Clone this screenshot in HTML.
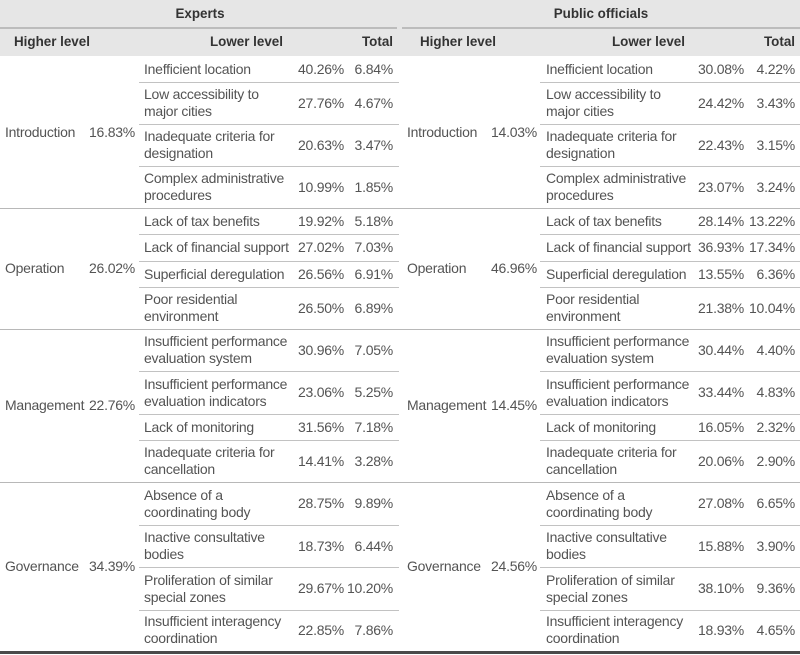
<!DOCTYPE html>
<html><head><meta charset="utf-8">
<style>
html,body{margin:0;padding:0;background:#fff;}
body{width:800px;height:655px;position:relative;overflow:hidden;font-family:"Liberation Sans",Arial,sans-serif;color:#545454;font-size:14px;letter-spacing:-0.25px;}
.hdr{position:absolute;left:0;top:0;width:800px;height:56px;background:#e6e6e6;}
.hl{position:absolute;height:2px;background:#bcbcbc;top:27px;}
.h{position:absolute;font-weight:bold;color:#333;font-size:13.4px;letter-spacing:0;line-height:16px;white-space:nowrap;}
.row{position:absolute;left:0;width:800px;}
.c{position:absolute;top:-1px;bottom:1px;display:flex;align-items:center;line-height:17px;white-space:nowrap;}
.nl{left:144px}.nr{left:546px}
.p1l{right:456px}.p2l{right:407px}.p1r{right:56px}.p2r{right:5px}
.gl{left:5px}.gr{left:407px}
.gpl{right:665px}.gpr{right:263px}
.ln{position:absolute;height:1px;background:#c2c2c2;}
.sl{left:139px;width:260px}.sr{left:540px;width:260px}
.gline{position:absolute;left:0;width:800px;height:1px;background:#b8b8b8;}
.bot{position:absolute;left:0;width:800px;top:651px;height:3px;background:#4a4a4a;}
</style></head><body>
<div class="hdr"></div>
<div class="hl" style="left:0;width:397px"></div>
<div class="hl" style="left:402px;width:398px"></div>
<div class="h" style="left:0;width:400px;text-align:center;top:6px">Experts</div>
<div class="h" style="left:402px;width:398px;text-align:center;top:6px">Public officials</div>
<div class="h" style="left:14px;top:34px">Higher level</div>
<div class="h" style="left:210px;top:34px">Lower level</div>
<div class="h" style="right:407px;top:34px">Total</div>
<div class="h" style="left:420px;top:34px">Higher level</div>
<div class="h" style="left:612px;top:34px">Lower level</div>
<div class="h" style="right:5px;top:34px">Total</div>

<!-- group labels -->
<div class="row" style="top:57px;height:152px"><div class="c gl">Introduction</div><div class="c gpl">16.83%</div><div class="c gr">Introduction</div><div class="c gpr">14.03%</div></div>
<div class="row" style="top:209px;height:121px"><div class="c gl">Operation</div><div class="c gpl">26.02%</div><div class="c gr">Operation</div><div class="c gpr">46.96%</div></div>
<div class="row" style="top:330px;height:153px"><div class="c gl">Management</div><div class="c gpl">22.76%</div><div class="c gr">Management</div><div class="c gpr">14.45%</div></div>
<div class="row" style="top:483px;height:169px"><div class="c gl">Governance</div><div class="c gpl">34.39%</div><div class="c gr">Governance</div><div class="c gpr">24.56%</div></div>

<!-- Introduction -->
<div class="row" style="top:57px;height:26px"><div class="c nl">Inefficient location</div><div class="c p1l">40.26%</div><div class="c p2l">6.84%</div><div class="c nr">Inefficient location</div><div class="c p1r">30.08%</div><div class="c p2r">4.22%</div></div>
<div class="row" style="top:83px;height:42px"><div class="c nl">Low accessibility to<br>major cities</div><div class="c p1l">27.76%</div><div class="c p2l">4.67%</div><div class="c nr">Low accessibility to<br>major cities</div><div class="c p1r">24.42%</div><div class="c p2r">3.43%</div></div>
<div class="row" style="top:125px;height:42px"><div class="c nl">Inadequate criteria for<br>designation</div><div class="c p1l">20.63%</div><div class="c p2l">3.47%</div><div class="c nr">Inadequate criteria for<br>designation</div><div class="c p1r">22.43%</div><div class="c p2r">3.15%</div></div>
<div class="row" style="top:167px;height:42px"><div class="c nl">Complex administrative<br>procedures</div><div class="c p1l">10.99%</div><div class="c p2l">1.85%</div><div class="c nr">Complex administrative<br>procedures</div><div class="c p1r">23.07%</div><div class="c p2r">3.24%</div></div>

<!-- Operation -->
<div class="row" style="top:209px;height:26px"><div class="c nl">Lack of tax benefits</div><div class="c p1l">19.92%</div><div class="c p2l">5.18%</div><div class="c nr">Lack of tax benefits</div><div class="c p1r">28.14%</div><div class="c p2r">13.22%</div></div>
<div class="row" style="top:235px;height:27px"><div class="c nl">Lack of financial support</div><div class="c p1l">27.02%</div><div class="c p2l">7.03%</div><div class="c nr">Lack of financial support</div><div class="c p1r">36.93%</div><div class="c p2r">17.34%</div></div>
<div class="row" style="top:262px;height:26px"><div class="c nl">Superficial deregulation</div><div class="c p1l">26.56%</div><div class="c p2l">6.91%</div><div class="c nr">Superficial deregulation</div><div class="c p1r">13.55%</div><div class="c p2r">6.36%</div></div>
<div class="row" style="top:288px;height:42px"><div class="c nl">Poor residential<br>environment</div><div class="c p1l">26.50%</div><div class="c p2l">6.89%</div><div class="c nr">Poor residential<br>environment</div><div class="c p1r">21.38%</div><div class="c p2r">10.04%</div></div>

<!-- Management -->
<div class="row" style="top:330px;height:42px"><div class="c nl">Insufficient performance<br>evaluation system</div><div class="c p1l">30.96%</div><div class="c p2l">7.05%</div><div class="c nr">Insufficient performance<br>evaluation system</div><div class="c p1r">30.44%</div><div class="c p2r">4.40%</div></div>
<div class="row" style="top:372px;height:43px"><div class="c nl">Insufficient performance<br>evaluation indicators</div><div class="c p1l">23.06%</div><div class="c p2l">5.25%</div><div class="c nr">Insufficient performance<br>evaluation indicators</div><div class="c p1r">33.44%</div><div class="c p2r">4.83%</div></div>
<div class="row" style="top:415px;height:26px"><div class="c nl">Lack of monitoring</div><div class="c p1l">31.56%</div><div class="c p2l">7.18%</div><div class="c nr">Lack of monitoring</div><div class="c p1r">16.05%</div><div class="c p2r">2.32%</div></div>
<div class="row" style="top:441px;height:42px"><div class="c nl">Inadequate criteria for<br>cancellation</div><div class="c p1l">14.41%</div><div class="c p2l">3.28%</div><div class="c nr">Inadequate criteria for<br>cancellation</div><div class="c p1r">20.06%</div><div class="c p2r">2.90%</div></div>

<!-- Governance -->
<div class="row" style="top:483px;height:43px"><div class="c nl">Absence of a<br>coordinating body</div><div class="c p1l">28.75%</div><div class="c p2l">9.89%</div><div class="c nr">Absence of a<br>coordinating body</div><div class="c p1r">27.08%</div><div class="c p2r">6.65%</div></div>
<div class="row" style="top:526px;height:42px"><div class="c nl">Inactive consultative<br>bodies</div><div class="c p1l">18.73%</div><div class="c p2l">6.44%</div><div class="c nr">Inactive consultative<br>bodies</div><div class="c p1r">15.88%</div><div class="c p2r">3.90%</div></div>
<div class="row" style="top:568px;height:43px"><div class="c nl">Proliferation of similar<br>special zones</div><div class="c p1l">29.67%</div><div class="c p2l">10.20%</div><div class="c nr">Proliferation of similar<br>special zones</div><div class="c p1r">38.10%</div><div class="c p2r">9.36%</div></div>
<div class="row" style="top:611px;height:40px"><div class="c nl">Insufficient interagency<br>coordination</div><div class="c p1l">22.85%</div><div class="c p2l">7.86%</div><div class="c nr">Insufficient interagency<br>coordination</div><div class="c p1r">18.93%</div><div class="c p2r">4.65%</div></div>

<!-- sub-row lines -->
<div class="ln sl" style="top:82px"></div><div class="ln sr" style="top:82px"></div>
<div class="ln sl" style="top:124px"></div><div class="ln sr" style="top:124px"></div>
<div class="ln sl" style="top:166px"></div><div class="ln sr" style="top:166px"></div>
<div class="ln sl" style="top:234px"></div><div class="ln sr" style="top:234px"></div>
<div class="ln sl" style="top:261px"></div><div class="ln sr" style="top:261px"></div>
<div class="ln sl" style="top:287px"></div><div class="ln sr" style="top:287px"></div>
<div class="ln sl" style="top:371px"></div><div class="ln sr" style="top:371px"></div>
<div class="ln sl" style="top:414px"></div><div class="ln sr" style="top:414px"></div>
<div class="ln sl" style="top:440px"></div><div class="ln sr" style="top:440px"></div>
<div class="ln sl" style="top:525px"></div><div class="ln sr" style="top:525px"></div>
<div class="ln sl" style="top:567px"></div><div class="ln sr" style="top:567px"></div>
<div class="ln sl" style="top:610px"></div><div class="ln sr" style="top:610px"></div>
<!-- group lines -->
<div class="gline" style="top:208px"></div>
<div class="gline" style="top:329px"></div>
<div class="gline" style="top:482px"></div>
<div class="bot"></div>
</body></html>
